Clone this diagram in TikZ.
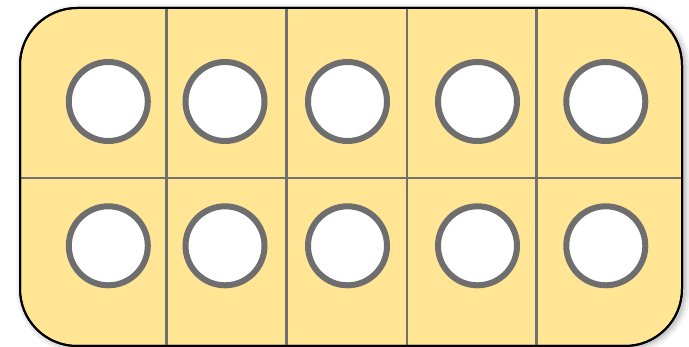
\documentclass[tikz,border=0pt]{standalone}
\usetikzlibrary{calc}
\definecolor{frameFill}{HTML}{FFE594}
\definecolor{ringGray}{HTML}{6E6E6E}
\definecolor{lineGray}{HTML}{707070}
\tikzset{
  frame/.style={rounded corners=57pt, line width=2pt, draw=black, fill=frameFill},
  divider/.style={draw=lineGray, line width=2.6pt},
  ring/.style={circle, draw=ringGray, fill=white, line width=6pt, minimum size=79pt, inner sep=0pt},
}
\begin{document}
\begin{tikzpicture}[x=1pt,y=-1pt]
\useasboundingbox (0,0) rectangle (689,347);
% soft shadow
\foreach \w/\o in {14/0.04,10/0.05,6/0.06,3/0.08}{
  \draw[rounded corners=57pt, line width=\w pt, draw=black, opacity=\o] (23,11) rectangle (684,347);
}
\path[frame] (20,8) rectangle (682,346);
% grid lines
\coordinate (t1) at (166.5,8);   \coordinate (b1) at (166.5,346);
\coordinate (t2) at (286.7,8);   \coordinate (b2) at (286.7,346);
\coordinate (t3) at (407,8);     \coordinate (b3) at (407,346);
\coordinate (t4) at (536.7,8);   \coordinate (b4) at (536.7,346);
\coordinate (l0) at (20,178);    \coordinate (r0) at (682,178);
\draw[divider] (t1) -- (b1);
\draw[divider] (t2) -- (b2);
\draw[divider] (t3) -- (b3);
\draw[divider] (t4) -- (b4);
\draw[divider] (l0) -- (r0);
\draw[rounded corners=57pt, line width=2pt, draw=black] (20,8) rectangle (682,346);
% rings
\node[ring] (a1) at (108.3,101.5) {};
\node[ring] (a2) at (225,101.5) {};
\node[ring] (a3) at (347.5,101.5) {};
\node[ring] (a4) at (477.5,101.5) {};
\node[ring] (a5) at (605.8,101.5) {};
\node[ring] (c1) at (108.3,245.8) {};
\node[ring] (c2) at (225,245.8) {};
\node[ring] (c3) at (347.5,245.8) {};
\node[ring] (c4) at (477.5,245.8) {};
\node[ring] (c5) at (605.8,245.8) {};
\end{tikzpicture}
\end{document}
